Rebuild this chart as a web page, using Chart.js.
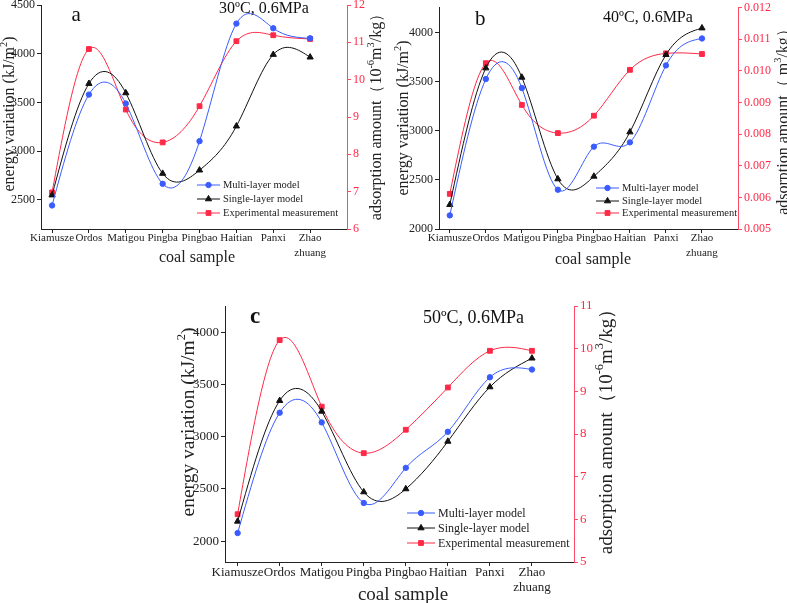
<!DOCTYPE html>
<html>
<head>
<meta charset="utf-8">
<script src="https://cdn.jsdelivr.net/npm/chart.js@4.4.1/dist/chart.umd.min.js"></script>
<style>
  body { margin: 0; background: #fff; width: 787px; height: 603px; position: relative; overflow: hidden; }
  .box { position: absolute; }
</style>
</head>
<body>
<div class="box" style="left:0;top:0;width:392px;height:270px"><canvas id="chart-a"></canvas></div>
<div class="box" style="left:392px;top:0;width:395px;height:270px"><canvas id="chart-b"></canvas></div>
<div class="box" style="left:170px;top:295px;width:450px;height:308px"><canvas id="chart-c"></canvas></div>
<script>
const samples = ["Kiamusze", "Ordos", "Matigou", "Pingba", "Pingbao", "Haitian", "Panxi", "Zhao zhuang"];
const seriesNames = ["Multi-layer model", "Single-layer model", "Experimental measurement"];

// a: 30C, 0.6MPa
const multiA = [2442, 3580, 3488, 2664, 3102, 4309, 4261, 4158];
const singleA = [2548, 3693, 3597, 2770, 2804, 3256, 3991, 3964];
const expA = [6.98, 10.82, 9.20, 8.32, 9.29, 11.03, 11.19, 11.09];
const leftTicksA = [2500, 3000, 3500, 4000, 4500];
const rightTicksA = [6, 7, 8, 9, 10, 11, 12];

// b: 40C, 0.6MPa
const multiB = [2139, 3530, 3438, 2401, 2840, 2884, 3669, 3944];
const singleB = [2248, 3642, 3547, 2510, 2537, 2989, 3778, 4050];
const expB = [0.00611, 0.01024, 0.00892, 0.00803, 0.00858, 0.01003, 0.01055, 0.01053];
const leftTicksB = [2000, 2500, 3000, 3500, 4000];
const rightTicksB = [0.005, 0.006, 0.007, 0.008, 0.009, 0.010, 0.011, 0.012];

// c: 50C, 0.6MPa
const multiC = [2077, 3229, 3136, 2365, 2701, 3046, 3568, 3642];
const singleC = [2189, 3344, 3242, 2470, 2499, 2954, 3475, 3750];
const expC = [6.12, 10.20, 8.64, 7.55, 8.10, 9.09, 9.95, 9.95];
const leftTicksC = [2000, 2500, 3000, 3500, 4000];
const rightTicksC = [5, 6, 7, 8, 9, 10, 11];

const FONT = '"Liberation Serif", "Times New Roman", serif';
Chart.defaults.font.family = FONT;
Chart.defaults.color = "#222";

const BLUE = "#3a5cff";
const BLACK = "#111";
const RED = "#ff2947";
const AXIS_RED = "#ff4a66";

// replace chart.js bezier handles with a natural cubic spline (like origin's spline line)
const splinePlugin = {
  id: "spline",
  beforeDatasetsDraw(chart) {
    chart.data.datasets.forEach((ds, di) => {
      const meta = chart.getDatasetMeta(di);
      meta.dataset.updateControlPoints(chart.chartArea, meta.indexAxis);
      const p = meta.data;
      const n = p.length;
      const h = [], M = new Array(n).fill(0);
      for (let i = 0; i < n - 1; i++) h.push(p[i + 1].x - p[i].x);
      // tridiagonal solve for second derivatives
      const a = [], b = [], c = [], r = [];
      for (let i = 1; i < n - 1; i++) {
        a.push(h[i - 1]);
        b.push(2 * (h[i - 1] + h[i]));
        c.push(h[i]);
        r.push(6 * ((p[i + 1].y - p[i].y) / h[i] - (p[i].y - p[i - 1].y) / h[i - 1]));
      }
      const m = r.length;
      for (let i = 1; i < m; i++) {
        const w = a[i] / b[i - 1];
        b[i] -= w * c[i - 1];
        r[i] -= w * r[i - 1];
      }
      for (let i = m - 1; i >= 0; i--) {
        M[i + 1] = (r[i] - (i < m - 1 ? c[i] * M[i + 2] : 0)) / b[i];
      }
      for (let i = 0; i < n - 1; i++) {
        const s = (p[i + 1].y - p[i].y) / h[i];
        const d0 = s - h[i] * (2 * M[i] + M[i + 1]) / 6;
        const d1 = s + h[i] * (M[i] + 2 * M[i + 1]) / 6;
        p[i].cp2x = p[i].x + h[i] / 3;
        p[i].cp2y = p[i].y + d0 * h[i] / 3;
        p[i + 1].cp1x = p[i + 1].x - h[i] / 3;
        p[i + 1].cp1y = p[i + 1].y - d1 * h[i] / 3;
      }
    });
  }
};

// text with superscripts, centred on x,y
function rich(ctx, segs, x, y, size, rot, color, bold) {
  ctx.save();
  ctx.translate(x, y);
  ctx.rotate(rot);
  ctx.fillStyle = color;
  ctx.textBaseline = "alphabetic";
  ctx.textAlign = "left";
  const f = s => (bold ? "bold " : "") + s + "px " + FONT;
  let w = 0;
  segs.forEach(s => { ctx.font = f(s.sup ? size * 0.65 : size); w += ctx.measureText(s.t).width; });
  let cx = -w / 2;
  segs.forEach(s => {
    ctx.font = f(s.sup ? size * 0.65 : size);
    ctx.fillText(s.t, cx, s.sup ? -size * 0.08 : size * 0.35);
    cx += ctx.measureText(s.t).width;
  });
  ctx.restore();
}

function decor(d) {
  return {
    id: "decor",
    afterDraw(chart) {
      const ctx = chart.ctx;
      rich(ctx, d.leftTitle, d.lt[0], d.lt[1], d.lt[2], -Math.PI / 2, "#222");
      rich(ctx, d.rightTitle, d.rt[0], d.rt[1], d.rt[2], -Math.PI / 2, "#222");
      rich(ctx, [{ t: "coal sample" }], d.xt[0], d.xt[1], d.xt[2], 0, "#222");

      ctx.save();
      ctx.fillStyle = "#111";
      ctx.textBaseline = "alphabetic";
      ctx.font = (d.letterBold ? "bold " : "") + d.letter[3] + "px " + FONT;
      ctx.fillText(d.letter[0], d.letter[1], d.letter[2]);
      ctx.font = d.cond[3] + "px " + FONT;
      ctx.fillText(d.cond[0], d.cond[1], d.cond[2]);

      // legend inside plot
      ctx.font = d.leg.size + "px " + FONT;
      ctx.textBaseline = "middle";
      chart.data.datasets.forEach((ds, i) => {
        const y = d.leg.y[i];
        ctx.strokeStyle = ds.borderColor;
        ctx.lineWidth = 1;
        ctx.beginPath();
        ctx.moveTo(d.leg.x, y);
        ctx.lineTo(d.leg.x + d.leg.len, y);
        ctx.stroke();
        ctx.fillStyle = ds.backgroundColor;
        Chart.helpers.drawPoint(ctx, { pointStyle: ds.pointStyle, radius: ds.pointRadius, rotation: 0, borderWidth: 1 }, d.leg.x + d.leg.len / 2, y);
        ctx.fillStyle = "#222";
        ctx.fillText(ds.label, d.leg.x + d.leg.len + 3, y + 0.5);
      });
      ctx.restore();
    }
  };
}

function series(vals, label, color, style, axis, r) {
  return {
    label: label,
    data: vals.map((v, i) => ({ x: i, y: v })),
    borderColor: color,
    backgroundColor: color,
    pointBorderColor: color,
    pointStyle: style,
    pointRadius: r,
    borderWidth: 1,
    tension: 0.4,
    yAxisID: axis
  };
}

function makeChart(id, c) {
  return new Chart(document.getElementById(id), {
    type: "line",
    data: {
      datasets: [
        series(c.multi, seriesNames[0], BLUE, "circle", "y", 2.7),
        series(c.single, seriesNames[1], BLACK, "triangle", "y", 3.6),
        series(c.exp, seriesNames[2], RED, "rect", "y1", 3.4)
      ]
    },
    options: {
      responsive: true,
      maintainAspectRatio: false,
      animation: false,
      layout: { padding: { top: c.top, left: 0, right: 0, bottom: 0 } },
      plugins: { legend: { display: false }, tooltip: { enabled: false } },
      scales: {
        x: {
          type: "linear", min: -0.3, max: 8,
          afterBuildTicks: s => { s.ticks = samples.map((_, i) => ({ value: i })); },
          afterFit: s => { s.height = c.xh; s.paddingLeft = 0; s.paddingRight = 0; },
          ticks: {
            font: { size: c.xFont, lineHeight: c.xLine }, padding: c.xPad, maxRotation: 0, autoSkip: false, color: "#222",
            callback: v => samples[v] ? samples[v].split(" ") : ""
          },
          grid: { drawOnChartArea: false, tickLength: 4, color: "#222" },
          border: { color: "#222" }
        },
        y: {
          position: "left", min: c.yMin, max: c.yMax,
          afterBuildTicks: s => { s.ticks = c.lTicks.map(v => ({ value: v })); },
          afterFit: s => { s.width = c.lw; s.paddingTop = 0; s.paddingBottom = 0; },
          ticks: { font: { size: c.yFont }, padding: 2, color: "#222", callback: v => String(v) },
          grid: { drawOnChartArea: false, tickLength: 4, color: "#222" },
          border: { color: "#222" }
        },
        y1: {
          position: "right", min: c.rMin, max: c.rMax,
          afterBuildTicks: s => { s.ticks = c.rTicks.map(v => ({ value: v })); },
          afterFit: s => { s.width = c.rw; s.paddingTop = 0; s.paddingBottom = 0; },
          ticks: { font: { size: c.yFont }, padding: 2, color: RED, callback: v => v.toFixed(c.rDigits) },
          grid: { drawOnChartArea: false, tickLength: 4, color: AXIS_RED },
          border: { color: AXIS_RED }
        }
      }
    },
    plugins: [splinePlugin, decor(c)]
  });
}

const energyTitle = [{ t: "energy variation (kJ/m" }, { t: "2", sup: true }, { t: ")" }];
const adsTitle = [{ t: "adsorption amount\uFF0810" }, { t: "-6", sup: true }, { t: "m" }, { t: "3", sup: true }, { t: "/kg\uFF09" }];
const adsTitleB = [{ t: "adsorption amount\uFF08 m" }, { t: "3", sup: true }, { t: "/kg\uFF09" }];

makeChart("chart-a", {
  multi: multiA, single: singleA, exp: expA,
  yMin: 2200, yMax: 4500, lTicks: leftTicksA,
  rMin: 6, rMax: 12, rTicks: rightTicksA, rDigits: 0,
  top: 4.5, lw: 41, rw: 45, xh: 41, xFont: 11, xLine: 1.36, xPad: -2, yFont: 12,
  leftTitle: energyTitle, rightTitle: adsTitle,
  lt: [8, 114, 16], rt: [375, 113, 16], xt: [197, 256, 16],
  letter: ["a", 71.5, 20.7, 21], cond: ["30\u00BAC, 0.6MPa", 219, 12.7, 16],
  leg: { x: 197, len: 23, y: [185, 199, 213], size: 10.5 }
});

makeChart("chart-b", {
  multi: multiB, single: singleB, exp: expB,
  yMin: 2000, yMax: 4260, lTicks: leftTicksB,
  rMin: 0.005, rMax: 0.012, rTicks: rightTicksB, rDigits: 3,
  top: 7.5, lw: 47, rw: 49, xh: 41, xFont: 11, xLine: 1.36, xPad: -2, yFont: 12,
  leftTitle: energyTitle, rightTitle: adsTitleB,
  lt: [10, 118, 16], rt: [390, 118, 16], xt: [201, 258, 16],
  letter: ["b", 83, 25, 21], cond: ["40\u00BAC, 0.6MPa", 211, 21.7, 16],
  leg: { x: 204, len: 23, y: [188, 201, 213], size: 10.5 }
});

makeChart("chart-c", {
  multi: multiC, single: singleC, exp: expC,
  yMin: 1800, yMax: 4250, lTicks: leftTicksC,
  rMin: 5, rMax: 11, rTicks: rightTicksC, rDigits: 0,
  top: 11, lw: 55, rw: 46, xh: 41, xFont: 13, xLine: 1.15, xPad: -1, yFont: 13,
  leftTitle: energyTitle, rightTitle: adsTitle,
  lt: [17, 127, 19.5], rt: [435, 132, 19], xt: [233, 298, 19],
  letter: ["c", 80, 28.3, 23], letterBold: true, cond: ["50\u00BAC, 0.6MPa", 253, 27.7, 18],
  leg: { x: 237, len: 28, y: [218, 233, 248], size: 12 }
});
</script>
</body>
</html>
